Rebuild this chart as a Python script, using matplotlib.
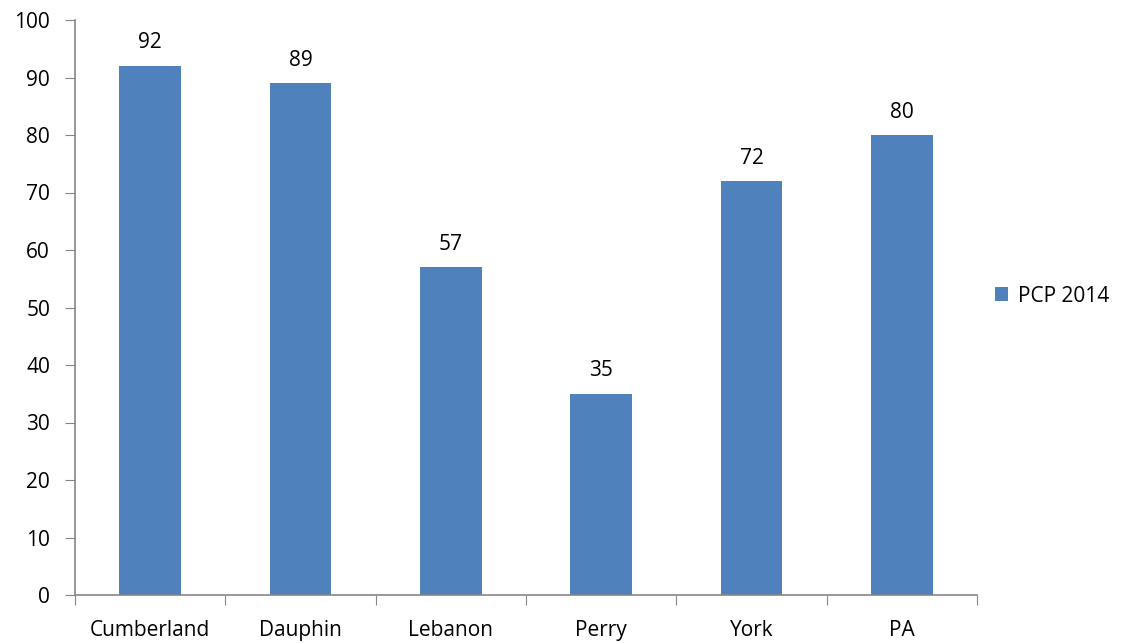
import matplotlib.pyplot as plt
import numpy as np

plt.rcParams['font.family'] = ['Open Sans', 'DejaVu Sans']

counties = ["Cumberland", "Dauphin", "Lebanon", "Perry", "York", "PA"]
pcp_2014 = [92, 89, 57, 35, 72, 80]
series_name = "PCP 2014"

bar_color = '#4f81bd'
axis_color = '#868686'
fs = 15

fig = plt.figure(figsize=(11.22, 6.43), dpi=100)
ax = fig.add_axes([75/1122, 1 - 595/643, (977-75)/1122, (595-20)/643])

x = np.arange(len(counties))
bars = ax.bar(x, pcp_2014, width=0.41, color=bar_color, label=series_name, zorder=2)

for xi, v in zip(x, pcp_2014):
    ax.annotate(str(v), (xi, v), xytext=(0, 9), textcoords='offset points',
                ha='center', va='bottom', fontsize=fs)

ax.set_xlim(-0.5, len(counties) - 0.5)
ax.set_ylim(0, 100)
ax.set_yticks(np.arange(0, 101, 10))
ax.set_xticks(np.arange(-0.5, len(counties), 1.0))
ax.set_xticklabels([])
ax.set_xticks(x, minor=True)
ax.set_xticklabels(counties, minor=True)

ax.tick_params(axis='x', which='major', length=7, color=axis_color, direction='out')
ax.tick_params(axis='x', which='minor', length=0, pad=18, labelsize=fs)
ax.tick_params(axis='y', length=7, color=axis_color, direction='out', labelsize=fs, pad=11)

for s in ['top', 'right']:
    ax.spines[s].set_visible(False)
for s in ['left', 'bottom']:
    ax.spines[s].set_color(axis_color)
    ax.spines[s].set_linewidth(1.2)

ax.legend(loc='center left', bbox_to_anchor=(0.999, 0.52), frameon=False,
          fontsize=fs, handlelength=0.65, handleheight=0.65, handletextpad=0.45)

fig.savefig('out.png', dpi=100)
